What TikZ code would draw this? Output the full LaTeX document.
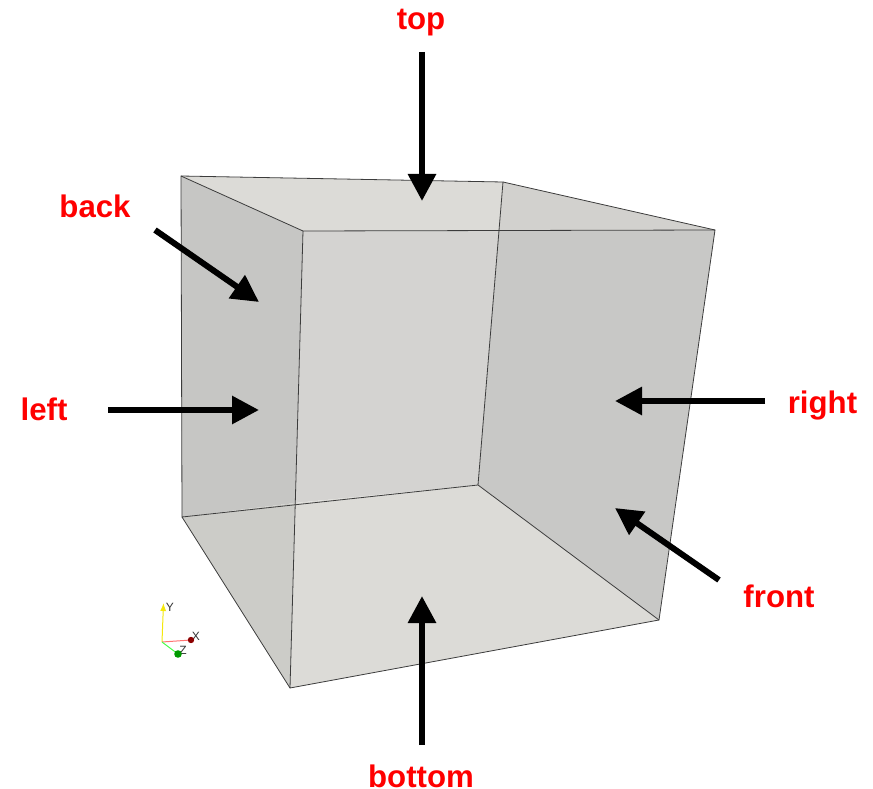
\documentclass[tikz,border=0pt]{standalone}
\usepackage{fontspec}
\setmainfont{Liberation Sans}
\usetikzlibrary{arrows.meta}
\definecolor{facetop}{HTML}{DCDBD7}
\definecolor{faceback}{HTML}{C6C6C4}
\definecolor{facefront}{HTML}{D4D3D1}
\definecolor{faceright}{HTML}{C8C8C6}
\definecolor{facewedge}{HTML}{D2D1CE}
\definecolor{facelow}{HTML}{CCCCC8}
\definecolor{edgegray}{HTML}{3C3C3C}
\tikzset{
    label/.style={text=red, font=\fontsize{31.2}{34}\selectfont\bfseries, inner sep=0pt, anchor=base},
    arrow/.style={-{Triangle[length=27pt,width=27pt]}, line width=6pt, black},
    edge/.style={draw=edgegray, line width=0.8pt},
    axis/.style={line width=1pt},
    axislabel/.style={text=black!80, font=\fontsize{12}{13}\selectfont, inner sep=0pt}
}

\begin{document}
\begin{tikzpicture}[x=1pt, y=-1pt]
        \useasboundingbox (0,0) rectangle (873,789);
        % cube corners
        \coordinate (backtl) at (181,176);
        \coordinate (backtr) at (503,182);
        \coordinate (backbl) at (182,517);
        \coordinate (backbr) at (478,485);
        \coordinate (fronttl) at (303,231);
        \coordinate (fronttr) at (715,230);
        \coordinate (frontbl) at (290,688);
        \coordinate (frontbr) at (659,620);
        \coordinate (crosstop) at (499,231);
        \coordinate (crossbot) at (295,503);
        % faces
        \fill [facetop] (backtl) -- (backtr) -- (crosstop) -- (fronttl) -- cycle;
        \fill [facewedge] (backtr) -- (fronttr) -- (crosstop) -- cycle;
        \fill [faceback] (backtl) -- (fronttl) -- (crossbot) -- (backbl) -- cycle;
        \fill [facefront] (fronttl) -- (crosstop) -- (backbr) -- (crossbot) -- cycle;
        \fill [faceright] (crosstop) -- (fronttr) -- (frontbr) -- (backbr) -- cycle;
        \fill [facetop] (crossbot) -- (backbr) -- (frontbr) -- (frontbl) -- cycle;
        \fill [facelow] (backbl) -- (crossbot) -- (frontbl) -- cycle;
        % edges
        \draw [edge] (backtl) -- (backtr) -- (backbr) -- (backbl) -- cycle;
        \draw [edge] (fronttl) -- (fronttr) -- (frontbr) -- (frontbl) -- cycle;
        \draw [edge] (backtl) -- (fronttl);
        \draw [edge] (backtr) -- (fronttr);
        \draw [edge] (backbl) -- (frontbl);
        \draw [edge] (backbr) -- (frontbr);
        % labels
        \node [label] (top) at (421,30) {top};
        \node [label] (back) at (95,217.5) {back};
        \node [label] (left) at (44,420) {left};
        \node [label] (right) at (822.5,413) {right};
        \node [label] (front) at (779,607) {front};
        \node [label] (bottom) at (421,787) {bottom};
        % arrows
        \coordinate (toptail) at (422,52);
        \coordinate (toptip) at (422,201);
        \coordinate (backtail) at (155,230);
        \coordinate (backtip) at (259,302);
        \coordinate (lefttail) at (108,410);
        \coordinate (lefttip) at (259,410);
        \coordinate (righttail) at (765,401);
        \coordinate (righttip) at (615,401);
        \coordinate (fronttail) at (719,580);
        \coordinate (fronttip) at (615,508);
        \coordinate (bottomtail) at (422,745);
        \coordinate (bottomtip) at (422,596);
        \draw [arrow] (toptail) -- (toptip);
        \draw [arrow] (backtail) -- (backtip);
        \draw [arrow] (lefttail) -- (lefttip);
        \draw [arrow] (righttail) -- (righttip);
        \draw [arrow] (fronttail) -- (fronttip);
        \draw [arrow] (bottomtail) -- (bottomtip);
        % axes
        \coordinate (origin) at (162,642);
        \node [axislabel] (ylabel) at (170,607) {Y};
        \node [axislabel] (xlabel) at (196,636) {X};
        \node [axislabel] (zlabel) at (183,650) {Z};
        \coordinate (ytip) at (163.5,603);
        \coordinate (xtip) at (191,640);
        \coordinate (ztip) at (178,654);
        \draw [axis, yellow!95!black, -{Latex[length=8pt,width=6pt]}] (origin) -- (ytip);
        \draw [axis, red!55] (origin) -- (xtip);
        \draw [axis, green!70] (origin) -- (ztip);
        \fill [red!55!black] (xtip) circle (3.2pt);
        \fill [green!60!black] (ztip) circle (3.8pt);
    \end{tikzpicture}
\end{document}
